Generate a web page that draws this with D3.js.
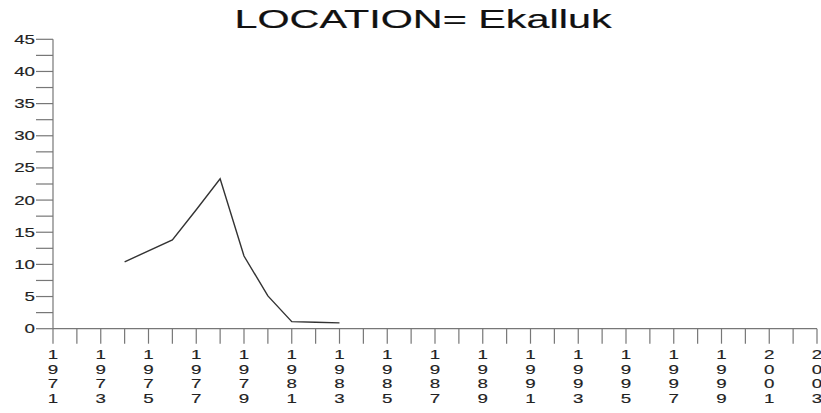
<!DOCTYPE html>
<html>
<head>
<meta charset="utf-8">
<script src="https://cdn.jsdelivr.net/npm/d3@7"></script>
<style>
  html, body { margin: 0; padding: 0; background: #fff; }
  svg { display: block; font-family: "Liberation Sans", Arial, Helvetica, sans-serif; }
</style>
</head>
<body>
<svg id="chart" width="821" height="413"></svg>
<script>
// Annual values for the Ekalluk location
const years  = [1974, 1976, 1977, 1978, 1979, 1980, 1981, 1982, 1983];
const values = [10.4, 13.8, 18.5, 23.3, 11.3, 5.1, 1.1, 1.0, 0.9];

const titleText = "LOCATION= Ekalluk";
const yMajorTicks = [0, 5, 10, 15, 20, 25, 30, 35, 40, 45];
const yMinorTicks = [2.5, 7.5, 12.5, 17.5, 22.5, 27.5, 32.5, 37.5, 42.5];
const xYearTicks = d3.range(1971, 2004);
const xLabelYears = d3.range(1971, 2004, 2);

// The device font is wide, so glyphs are stretched horizontally
const stretch = 1.5;

const svg = d3.select("#chart");

const x = d3.scaleLinear().domain([1971, 2003]).range([53, 817]);
const y = d3.scaleLinear().domain([0, 45]).range([328.7, 39.3]);

const axisColor = "#777";
const textColor = "#222";

// Title
svg.append("text")
  .attr("transform", `translate(423,28) scale(1.56,1)`)
  .attr("text-anchor", "middle")
  .attr("font-size", 26.5)
  .attr("fill", "#111")
  .attr("stroke", "#111")
  .attr("stroke-width", 0.2)
  .text(titleText);

// Y axis: labelled major ticks plus unlabelled minor ticks
const yAxis = svg.append("g").attr("transform", `translate(${x(1971)},0)`);
yAxis.append("line")
  .attr("y1", y(45)).attr("y2", y(0))
  .attr("stroke", axisColor).attr("stroke-width", 1.2);
yAxis.selectAll("line.tick")
  .data(yMajorTicks.concat(yMinorTicks))
  .join("line")
  .attr("class", "tick")
  .attr("x1", -17).attr("x2", 0)
  .attr("y1", d => y(d)).attr("y2", d => y(d))
  .attr("stroke", axisColor).attr("stroke-width", 1.2);
yAxis.selectAll("text")
  .data(yMajorTicks)
  .join("text")
  .attr("transform", d => `translate(-18,${y(d)}) scale(${stretch},1)`)
  .attr("dy", "0.36em")
  .attr("text-anchor", "end")
  .attr("font-size", 12.5)
  .attr("fill", textColor)
  .attr("stroke", textColor)
  .attr("stroke-width", 0.15)
  .text(d => d);

// X axis: a tick for every year, vertical digit labels every other year
const xAxis = svg.append("g").attr("transform", `translate(0,${y(0)})`);
xAxis.append("line")
  .attr("x1", x(1971)).attr("x2", x(2003))
  .attr("stroke", axisColor).attr("stroke-width", 1.2);
xAxis.selectAll("line.tick")
  .data(xYearTicks)
  .join("line")
  .attr("class", "tick")
  .attr("x1", d => x(d)).attr("x2", d => x(d))
  .attr("y1", 0).attr("y2", 15)
  .attr("stroke", axisColor).attr("stroke-width", 1.2);
const labels = xAxis.selectAll("text")
  .data(xLabelYears)
  .join("text")
  .attr("transform", d => `translate(${x(d)},0) scale(${stretch},1)`)
  .attr("text-anchor", "middle")
  .attr("font-size", 12.5)
  .attr("fill", textColor)
  .attr("stroke", textColor)
  .attr("stroke-width", 0.15);
labels.selectAll("tspan")
  .data(d => String(d).split(""))
  .join("tspan")
  .attr("x", 0)
  .attr("y", (d, i) => 30 + i * 14.9)
  .text(d => d);

// Data line
const line = d3.line()
  .x((d, i) => x(years[i]))
  .y(d => y(d));
svg.append("path")
  .datum(values)
  .attr("d", line)
  .attr("fill", "none")
  .attr("stroke", "#333")
  .attr("stroke-width", 1.4);
</script>
</body>
</html>
